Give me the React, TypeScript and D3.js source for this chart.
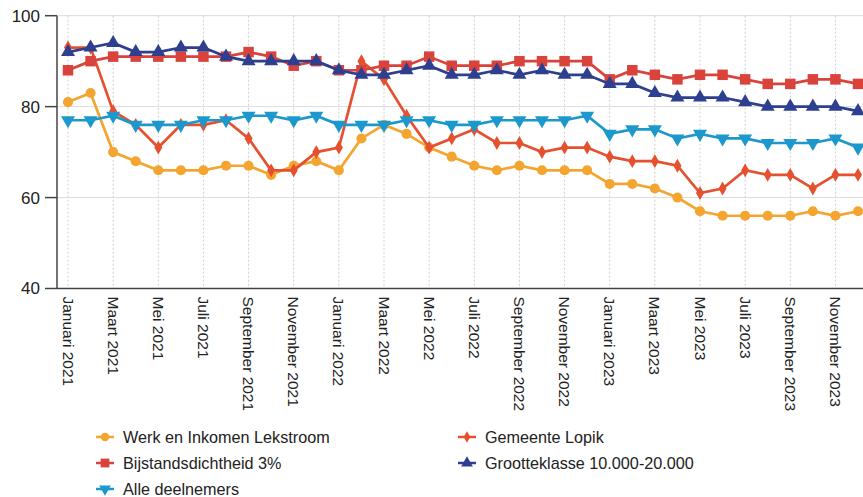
import React from "react";
import * as d3 from "d3";

const months = ["Januari","Februari","Maart","April","Mei","Juni","Juli","Augustus","September","Oktober","November","December"];
const years = [2021, 2022, 2023];
const categories: string[] = years.flatMap((y) => months.map((m) => `${m} ${y}`));

const werk = [81,83,70,68,66,66,66,67,67,65,67,68, 66,73,76,74,71,69,67,66,67,66,66,66, 63,63,62,60,57,56,56,56,56,57,56,57];
const lopik = [93,93,79,76,71,76,76,77,73,66,66,70, 71,90,86,78,71,73,75,72,72,70,71,71, 69,68,68,67,61,62,66,65,65,62,65,65];
const bijstand = [88,90,91,91,91,91,91,91,92,91,89,90, 88,88,89,89,91,89,89,89,90,90,90,90, 86,88,87,86,87,87,86,85,85,86,86,85];
const groot = [92,93,94,92,92,93,93,91,90,90,90,90, 88,87,87,88,89,87,87,88,87,88,87,87, 85,85,83,82,82,82,81,80,80,80,80,79];
const alle = [77,77,78,76,76,76,77,77,78,78,77,78, 76,76,76,77,77,76,76,77,77,77,77,78, 74,75,75,73,74,73,73,72,72,72,73,71];

const yTicks = [40, 60, 80, 100];

type Shape = "circle" | "diamond" | "square" | "triangle" | "triangleDown";
const seriesList: { name: string; values: number[]; color: string; shape: Shape }[] = [
  { name: "Werk en Inkomen Lekstroom", values: werk, color: "#F3A530", shape: "circle" },
  { name: "Gemeente Lopik", values: lopik, color: "#E5502F", shape: "diamond" },
  { name: "Bijstandsdichtheid 3%", values: bijstand, color: "#D9433B", shape: "square" },
  { name: "Grootteklasse 10.000-20.000", values: groot, color: "#2D3F8E", shape: "triangle" },
  { name: "Alle deelnemers", values: alle, color: "#1C98CC", shape: "triangleDown" },
];

const symbolPath = (shape: Shape, scale = 1) => {
  const map: Record<Shape, [d3.SymbolType, number]> = {
    circle: [d3.symbolCircle, 80],
    diamond: [d3.symbolDiamond, 55],
    square: [d3.symbolSquare, 110],
    triangle: [d3.symbolTriangle, 85],
    triangleDown: [d3.symbolTriangle, 85],
  };
  const [t, s] = map[shape];
  return d3.symbol(t, s * scale)();
};

export default function App() {
  const W = 863, H = 497;
  const left = 57, top = 15.7, bottom = 288.5;
  const x = d3.scaleLinear().domain([0, categories.length - 1]).range([68, 858]);
  const y = d3.scaleLinear().domain([40, 100]).range([bottom, top]);
  const line = d3.line<number>().x((_, i) => x(i)).y((v) => y(v));
  const labelIdx = categories.map((_, i) => i).filter((i) => i % 2 === 0);
  const font = "Liberation Sans, Arial, sans-serif";

  const legendItems = [
    { s: seriesList[0], lx: 105, ly: 437 },
    { s: seriesList[2], lx: 105, ly: 463 },
    { s: seriesList[4], lx: 105, ly: 489 },
    { s: seriesList[1], lx: 467, ly: 437 },
    { s: seriesList[3], lx: 467, ly: 463 },
  ];

  return (
    <svg width={W} height={H} style={{ position: "absolute", left: 0, top: 0, background: "#fff" }} fontFamily={font}>
      <rect width={W} height={H} fill="#fff" />
      {/* grid */}
      {yTicks.filter((t) => t > 40).map((t) => (
        <line key={t} x1={left} x2={W} y1={y(t)} y2={y(t)} stroke="#dcdcdc" strokeWidth={1} />
      ))}
      {labelIdx.map((i) => (
        <line key={i} x1={x(i)} x2={x(i)} y1={top} y2={bottom} stroke="#cfcfcf" strokeWidth={1} strokeDasharray="2,2" />
      ))}
      {/* axes */}
      <line x1={left} x2={left} y1={top} y2={bottom} stroke="#444" strokeWidth={1.5} />
      <line x1={left} x2={W} y1={bottom} y2={bottom} stroke="#444" strokeWidth={1.5} />
      {yTicks.map((t) => (
        <g key={t}>
          <line x1={45} x2={left} y1={y(t)} y2={y(t)} stroke="#444" strokeWidth={1.5} />
          <text x={40} y={y(t)} dy="0.35em" textAnchor="end" fontSize={17} fill="#222">{t}</text>
        </g>
      ))}
      {labelIdx.map((i) => (
        <text key={i} transform={`translate(${x(i)},${bottom + 8}) rotate(90)`} dy="0.35em" fontSize={15.5} fill="#222">
          {categories[i]}
        </text>
      ))}
      {/* series */}
      {seriesList.map((s) => (
        <g key={s.name}>
          <path d={line(s.values) || ""} fill="none" stroke={s.color} strokeWidth={2.7} />
          {s.values.map((v, i) => (
            <path key={i} d={symbolPath(s.shape) || ""} fill={s.color}
              transform={`translate(${x(i)},${y(v)})${s.shape === "triangleDown" ? " rotate(180)" : ""}`} />
          ))}
        </g>
      ))}
      {/* legend */}
      {legendItems.map(({ s, lx, ly }) => (
        <g key={s.name}>
          <line x1={lx - 9} x2={lx + 9} y1={ly} y2={ly} stroke={s.color} strokeWidth={2.5} />
          <path d={symbolPath(s.shape, 0.7) || ""} fill={s.color}
            transform={`translate(${lx},${ly})${s.shape === "triangleDown" ? " rotate(180)" : ""}`} />
          <text x={lx + 18} y={ly} dy="0.35em" fontSize={16.2} fill="#222">{s.name}</text>
        </g>
      ))}
    </svg>
  );
}
